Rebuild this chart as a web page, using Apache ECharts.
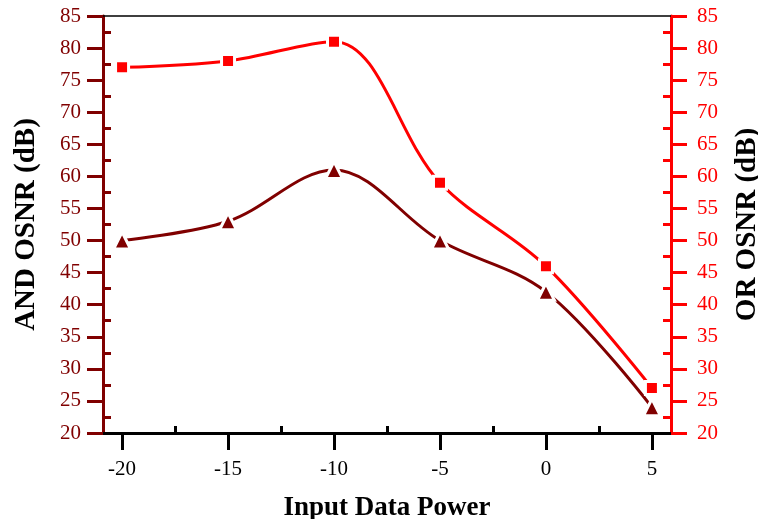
<!DOCTYPE html>
<html>
<head>
<meta charset="utf-8">
<script src="https://cdn.jsdelivr.net/npm/echarts@6/dist/echarts.min.js"></script>
<style>
  html, body { margin: 0; padding: 0; background: #fff; }
  #chart { width: 758px; height: 519px; }
</style>
</head>
<body>
<div id="chart"></div>
<script>
// Input data power (x) and the two OSNR curves
const inputPower = [-20, -15, -10, -5, 0, 5];
const andOsnr = [50, 53, 61, 50, 42, 24];
const orOsnr = [77, 78, 81, 59, 46, 27];
const xMajorTicks = [-20, -15, -10, -5, 0, 5];
const xMinorTicks = [-17.5, -12.5, -7.5, -2.5, 2.5];

const DARK = '#800000';
const RED = '#ff0000';
const SERIF = '"Liberation Serif", "Times New Roman", serif';

const chart = echarts.init(document.getElementById('chart'));

function pairs(xs, ys) { return xs.map((x, i) => [x, ys[i]]); }

function yAxisBase(color, position, name, gap, margin) {
  return {
    type: 'value', position: position, min: 20, max: 85, interval: 5,
    name: name, nameLocation: 'middle', nameGap: gap, nameRotate: 90,
    nameTextStyle: { fontFamily: SERIF, fontWeight: 'bold', fontSize: 29, color: '#000' },
    axisLine: { show: true, onZero: false, lineStyle: { color: color, width: 3 } },
    axisTick: { show: true, inside: false, length: 16, lineStyle: { color: color, width: 3 } },
    minorTick: { show: true, splitNumber: 2, length: -8, lineStyle: { color: color, width: 3 } },
    axisLabel: { color: color, fontFamily: SERIF, fontSize: 21, margin: margin },
    splitLine: { show: false }
  };
}

chart.setOption({
  animation: false,
  backgroundColor: '#fff',
  grid: { left: 103, right: 87, top: 16, bottom: 86, containLabel: false, outerBoundsMode: 'none' },
  xAxis: [
    {
      type: 'value', min: -20.9, max: 5.9,
      name: 'Input Data Power', nameLocation: 'middle', nameGap: 62,
      nameTextStyle: { fontFamily: SERIF, fontWeight: 'bold', fontSize: 27, color: '#000' },
      axisLine: { show: true, onZero: false, lineStyle: { color: '#000', width: 3 } },
      axisTick: { show: true, length: 17, customValues: xMajorTicks, lineStyle: { color: '#000', width: 3 } },
      axisLabel: { customValues: xMajorTicks, color: '#000', fontFamily: SERIF, fontSize: 21, margin: 26 },
      splitLine: { show: false }
    },
    {
      type: 'value', min: -20.9, max: 5.9, position: 'bottom',
      axisLine: { show: false, onZero: false },
      axisTick: { show: true, length: -7, customValues: xMinorTicks, lineStyle: { color: '#000', width: 3 } },
      axisLabel: { show: false },
      splitLine: { show: false }
    },
    {
      type: 'value', min: -20.9, max: 5.9, position: 'top',
      axisLine: { show: true, onZero: false, lineStyle: { color: '#000', width: 1.5 } },
      axisTick: { show: false }, axisLabel: { show: false }, splitLine: { show: false }
    }
  ],
  yAxis: [
    yAxisBase(DARK, 'left', 'AND OSNR (dB)', 62, 22),
    yAxisBase(RED, 'right', 'OR OSNR (dB)', 62, 26)
  ],
  series: [
    {
      name: 'AND', type: 'line', xAxisIndex: 0, yAxisIndex: 0, smooth: 0.35,
      data: pairs(inputPower, andOsnr),
      symbol: 'triangle', symbolSize: 17,
      lineStyle: { color: DARK, width: 3 },
      itemStyle: { color: DARK, borderColor: '#fff', borderWidth: 3 }
    },
    {
      name: 'OR', type: 'line', xAxisIndex: 0, yAxisIndex: 1, smooth: 0.35,
      data: pairs(inputPower, orOsnr),
      symbol: 'rect', symbolSize: 13,
      lineStyle: { color: RED, width: 3 },
      itemStyle: { color: RED, borderColor: '#fff', borderWidth: 3 }
    }
  ]
});
</script>
</body>
</html>
